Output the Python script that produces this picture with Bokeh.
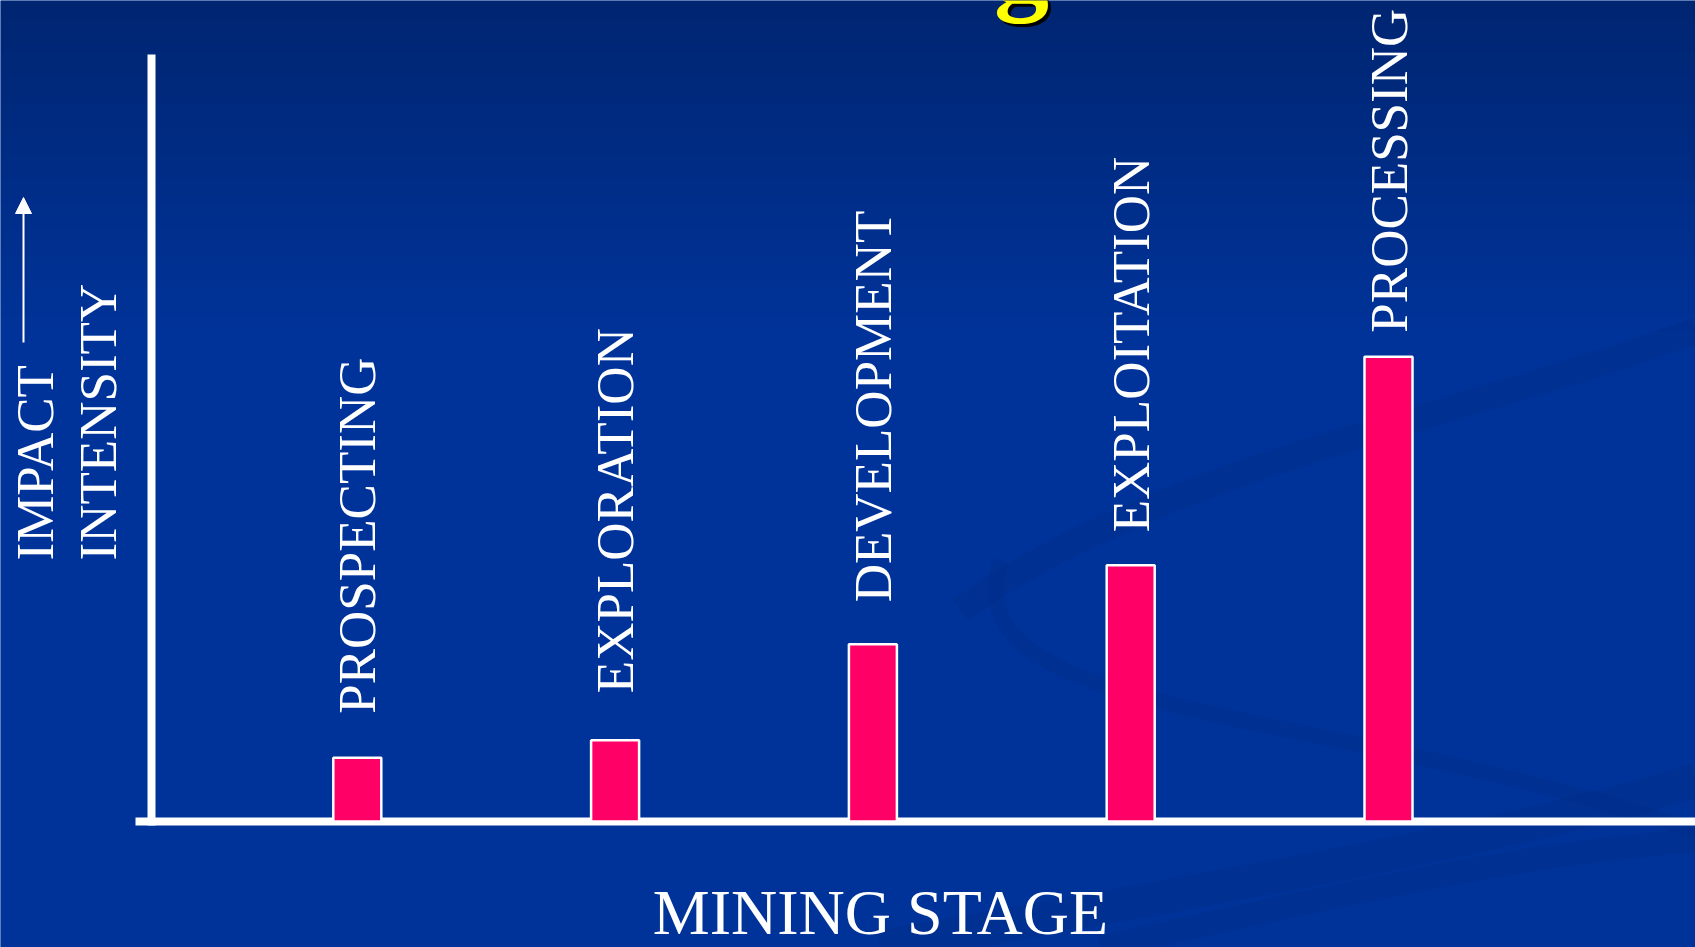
import numpy as np
from bokeh.plotting import figure
from bokeh.models import Range1d, ColumnDataSource, Arrow, NormalHead
from bokeh.core.properties import value
from bokeh.embed import file_html
from bokeh.resources import INLINE

# ---------------- data ----------------
stages = ["PROSPECTING", "EXPLORATION", "DEVELOPMENT", "EXPLOITATION", "PROCESSING"]
impact = [8.3, 10.6, 23.1, 33.4, 60.6]
x_title = "MINING STAGE"
y_title_lines = ["IMPACT", "INTENSITY"]
title_fragment = "g"

# ---------------- layout ----------------
W, H = 1695, 947
STEP_PX = 257.8      # pixels between stage centres
FIRST_PX = 356.8     # pixel x of first stage centre
ZERO_PX = 821.0      # pixel y of impact = 0
UNIT_PX = 7.67       # pixels per impact unit
LABEL_GAP_PX = [44, 47, 42, 33, 24]   # gap between bar top and its label

x_start = -FIRST_PX / STEP_PX
x_end = x_start + W / STEP_PX
y_start = -(H - ZERO_PX) / UNIT_PX
y_end = ZERO_PX / UNIT_PX


def dx(px):
    return x_start + px / STEP_PX


def dy(py):
    return y_end - py / UNIT_PX


BG = "#003399"
FONT = value("Liberation Serif")

p = figure(width=W, height=H,
           x_range=Range1d(x_start, x_end), y_range=Range1d(y_start, y_end),
           x_axis_type=None, y_axis_type=None,
           output_backend="svg", toolbar_location=None, min_border=0,
           outline_line_color=None,
           background_fill_color=BG, border_fill_color=BG)
p.grid.visible = False

# background: darker band at the top fading into the slide blue
img = np.empty((H, 2), dtype=np.uint32)
view = img.view(dtype=np.uint8).reshape((H, 2, 4))
top_c = np.array([0, 38, 114], dtype=float)
main_c = np.array([0, 51, 153], dtype=float)
for i in range(H):
    py = H - 1 - i
    t = min(py / 330.0, 1.0)
    c = top_c + (main_c - top_c) * t
    view[i, :, 0] = int(c[0])
    view[i, :, 1] = int(c[1])
    view[i, :, 2] = int(c[2])
    view[i, :, 3] = 255
p.image_rgba(image=[img], x=x_start, y=y_start, dw=x_end - x_start, dh=y_end - y_start)

# faint decorative swooshes (slide template)
sw = ColumnDataSource(dict(
    x0=[dx(960), dx(1000), dx(880), dx(1100)],
    y0=[dy(610), dy(560), dy(947), dy(947)],
    cx0=[dx(1150), dx(950), dx(1200), dx(1400)],
    cy0=[dy(470), dy(720), dy(890), dy(880)],
    cx1=[dx(1450), dx(1300), dx(1500), dx(1550)],
    cy1=[dy(420), dy(700), dy(840), dy(850)],
    x1=[dx(1695), dx(1695), dx(1695), dx(1695)],
    y1=[dy(330), dy(830), dy(780), dy(840)],
    w=[26, 16, 34, 24],
))
p.bezier(x0="x0", y0="y0", x1="x1", y1="y1", cx0="cx0", cy0="cy0",
         cx1="cx1", cy1="cy1", line_width="w", line_color="#002a85",
         line_alpha=0.3, source=sw)

# axes lines
p.segment(x0=[dx(151)], y0=[dy(54)], x1=[dx(151)], y1=[dy(825)],
          line_color="white", line_width=8)
p.segment(x0=[dx(135)], y0=[0], x1=[x_end], y1=[0],
          line_color="white", line_width=8)

# bars
idx = list(range(len(stages)))
src = ColumnDataSource(dict(x=idx, top=impact, label=stages,
                            off=[-g for g in LABEL_GAP_PX]))
p.vbar(x="x", top="top", bottom=0, width=48 / STEP_PX, source=src,
       fill_color="#FF0066", line_color="white", line_width=2.5)

# stage labels above the bars
p.text(x="x", y="top", text="label", source=src, angle=np.pi / 2,
       text_align="left", text_baseline="middle", y_offset="off",
       text_font=FONT, text_font_size="53px", text_color="white")

# y axis title with arrow
p.text(x=[dx(34), dx(97)], y=[dy(560), dy(560)], text=y_title_lines,
       angle=np.pi / 2, text_align="left", text_baseline="middle",
       text_font=FONT, text_font_size="53px", text_color="white")
p.add_layout(Arrow(x_start=dx(23), y_start=dy(342), x_end=dx(23), y_end=dy(197),
                   line_color="white", line_width=2,
                   end=NormalHead(size=16, fill_color="white", line_color="white")))

# x axis title
p.text(x=[dx(880)], y=[dy(912)], text=[x_title], text_align="center",
       text_baseline="middle", text_font=FONT, text_font_size="64px",
       text_color="white")

# cut-off title fragment at the top
p.text(x=[dx(1024)], y=[dy(-35)], text=[title_fragment], text_align="center",
       text_baseline="middle", text_font=FONT, text_font_size="110px",
       text_font_style="bold", text_color="black")
p.text(x=[dx(1021)], y=[dy(-38)], text=[title_fragment], text_align="center",
       text_baseline="middle", text_font=FONT, text_font_size="110px",
       text_font_style="bold", text_color="#FFFF00")

open("out.html", "w").write(file_html(p, INLINE))
